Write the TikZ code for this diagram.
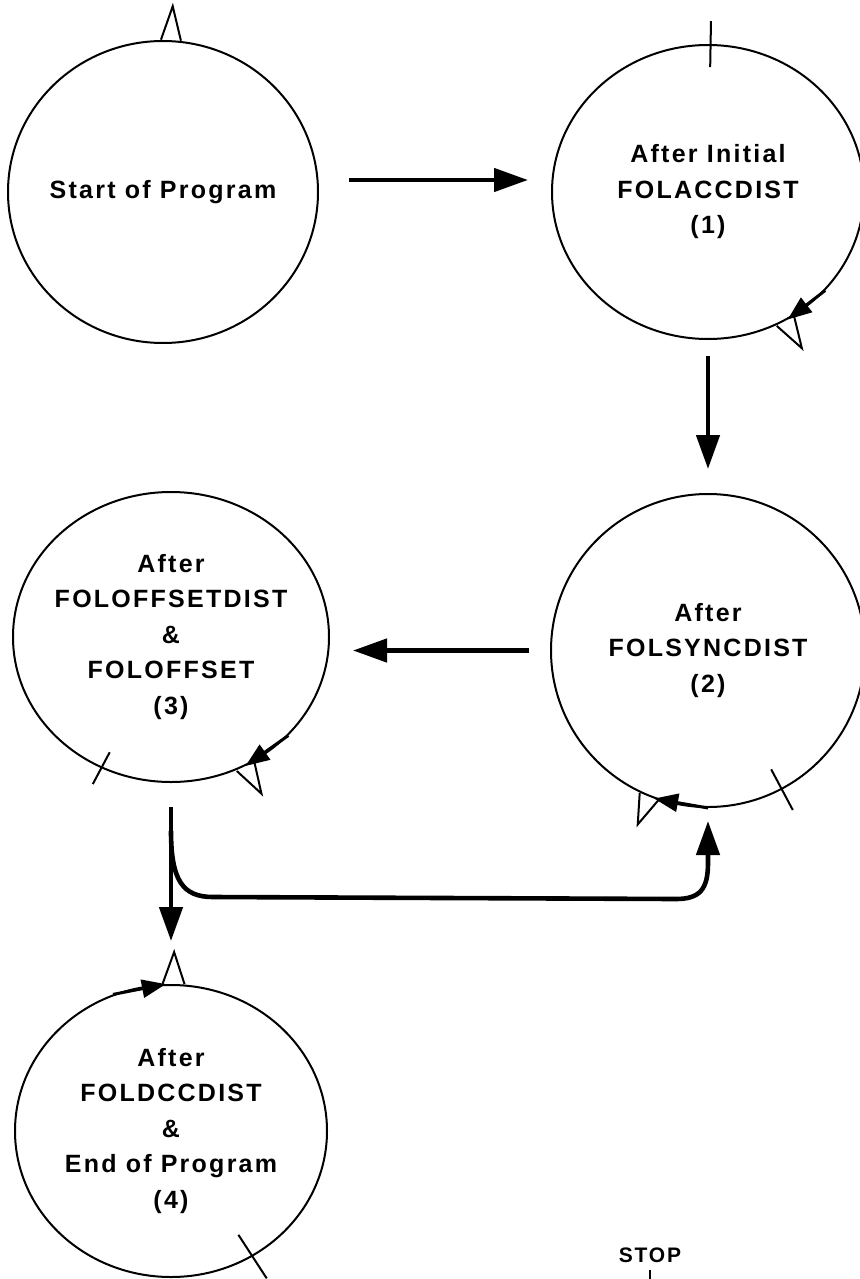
\documentclass[tikz,border=0pt]{standalone}
\usepackage{fontspec}
\newfontfamily\diagfont[LetterSpace=9]{Liberation Sans}
\usepackage{tikz}
\usetikzlibrary{arrows.meta, positioning, shapes.geometric, calc}

\begin{document}
\begin{tikzpicture}[
  x=0.5pt, y=-0.5pt,
  stage/.style={ellipse, draw, line width=1pt, inner sep=0pt},
  stagetext/.style={align=center, font=\diagfont\bfseries\fontsize{12.5}{17.75}\selectfont},
  stoptext/.style={font=\diagfont\bfseries\fontsize{10.5}{12}\selectfont},
  flow/.style={-{Triangle[length=17pt, width=11.5pt]}, line width=2.3pt},
  spin/.style={-{Triangle[length=12pt, width=9pt]}, line width=1.5pt},
  opentri/.style={draw, line width=1pt, line join=miter},
  tickline/.style={line width=1pt}
]
  \useasboundingbox (0,0) rectangle (859,1279);

  \node[stage, minimum width=155pt, minimum height=151pt] (start) at (163,192) {};
  \node[stage, minimum width=156pt, minimum height=147pt, right=116pt of start] (c1) {};
  \node[stage, minimum width=157pt, minimum height=156.5pt, below=76.5pt of c1] (c2) {};
  \node[stage, minimum width=158pt, minimum height=145pt] (c3) at (171,637) {};
  \node[stage, minimum width=156pt, minimum height=146pt, below=100.5pt of c3] (c4) {};

  \node[stagetext] (startlbl) at (start) {Start of Program};
  \node[stagetext] (c1lbl) at (c1) {After Initial\\FOLACCDIST\\(1)};
  \node[stagetext] (c2lbl) at (c2) {After\\FOLSYNCDIST\\(2)};
  \node[stagetext] (c3lbl) at (c3) {After\\FOLOFFSETDIST\\\&\\FOLOFFSET\\(3)};
  \node[stagetext] (c4lbl) at (c4) {After\\FOLDCCDIST\\\&\\End of Program\\(4)};
  \node[stoptext] (stop) at (650,1255) {STOP};

  \draw[flow, shorten <=15pt, shorten >=11.5pt] ([yshift=6pt]start.east) -- ([yshift=6pt]c1.west);
  \draw[flow, shorten <=8pt, shorten >=12pt] (c1.south) -- (c2.north);
  \draw[flow, shorten <=10.5pt, shorten >=11.5pt] (c2.west) -- (c2.west -| c3.east);
  \draw[flow, shorten <=12pt, shorten >=21.5pt] (c3.south) -- (c3.south |- c4.north);

  \coordinate (fork) at ($(c3.south)+(0,48)$);
  \coordinate (rise) at ($(c2.south)+(0,55)$);
  \draw[flow, shorten >=6.5pt] (fork) .. controls +(0,50) and +(-30,0) .. ($(fork)+(42,66)$)
    -- ($(rise)+(-32,36)$) .. controls +(24,0) and +(0,26) .. (rise) -- (c2.south);

  % markers on the stages
  \draw[opentri] ($(start.87)!5pt!90:(start.center)$) -- ($(start.87)!-17pt!(start.center)$) -- ($(start.87)!5pt!-90:(start.center)$);
  \draw[opentri] ($(c1.-59)!5pt!90:(c1.center)$) -- ($(c1.-59)!-16pt!(c1.center)$) -- ($(c1.-59)!5pt!-90:(c1.center)$);
  \draw[opentri] ($(c2.-112)!5pt!90:(c2.center)$) -- ($(c2.-112)!-15pt!(c2.center)$) -- ($(c2.-112)!5pt!-90:(c2.center)$);
  \draw[opentri] ($(c3.-60)!5pt!90:(c3.center)$) -- ($(c3.-60)!-16pt!(c3.center)$) -- ($(c3.-60)!5pt!-90:(c3.center)$);
  \draw[opentri] ($(c4.89)!5.5pt!90:(c4.center)$) -- ($(c4.89)!-16pt!(c4.center)$) -- ($(c4.89)!5.5pt!-90:(c4.center)$);

  \draw[spin] (c1.-40) -- (c1.-58);
  \draw[spin] (c2.-90) -- (c2.-110);
  \draw[spin] (c3.-40) -- (c3.-60);
  \draw[spin] (c4.113) -- (c4.92);

  \draw[tickline] ($(c1.89)!11.5pt!(c1.center)$) -- ($(c1.89)!-11.5pt!(c1.center)$);
  \draw[tickline] ($(c2.-62)!11.5pt!(c2.center)$) -- ($(c2.-62)!-11.5pt!(c2.center)$);
  \draw[tickline] ($(c3.-118)!9pt!(c3.center)$) -- ($(c3.-118)!-9pt!(c3.center)$);
  \draw[tickline] ($(c4.-57)!13pt!(c4.center)$) -- ($(c4.-57)!-13pt!(c4.center)$);
  \draw[tickline] (stop.south) -- ++(0,12);
\end{tikzpicture}
\end{document}
